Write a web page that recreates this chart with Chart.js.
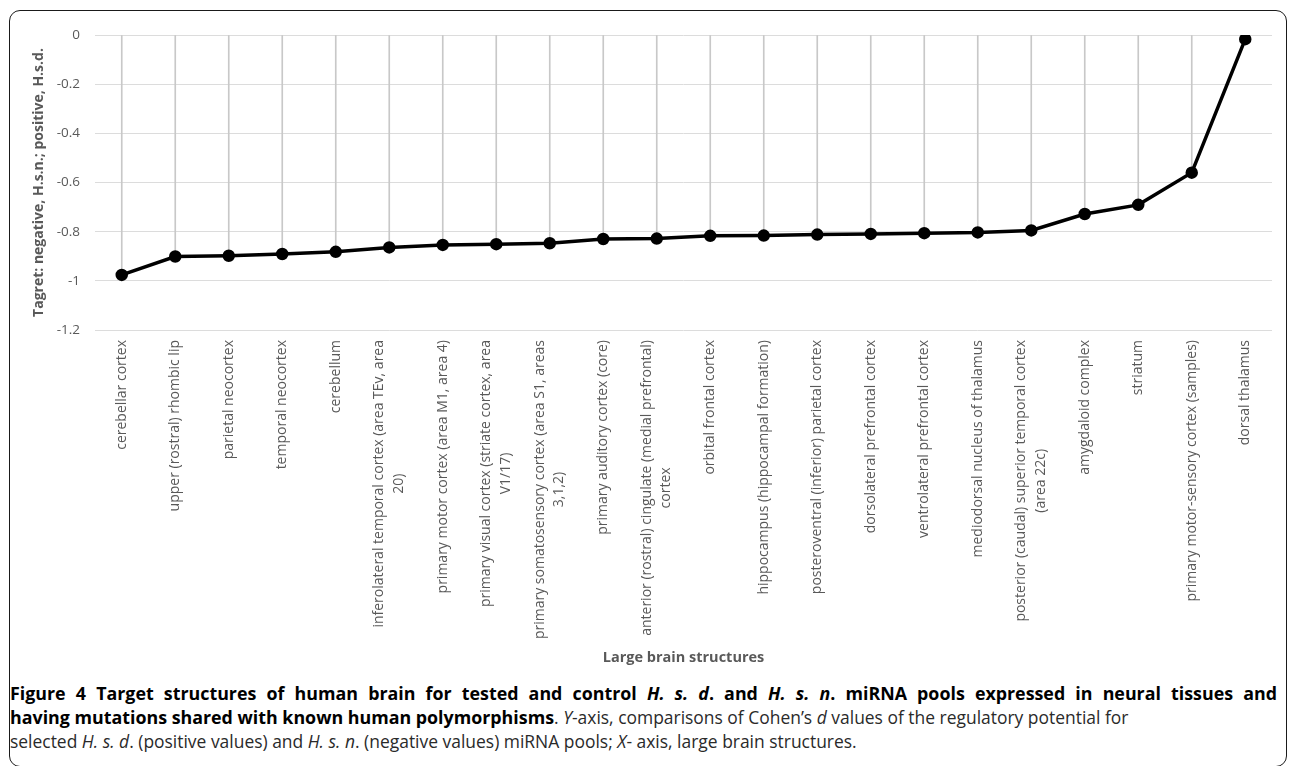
<!DOCTYPE html>
<html>
<head>
<meta charset="utf-8">
<script src="https://cdn.jsdelivr.net/npm/chart.js@4"></script>
<style>
  body { margin: 0; background: #fff; width: 1290px; height: 766px; overflow: hidden; position: relative; font-family: "Open Sans", sans-serif; }
  #frame { position: absolute; left: 9px; top: 10px; width: 1276px; height: 755px; border: 1.5px solid #1a1a1a; border-radius: 11px; }
  #wrap { position: absolute; left: 0; top: 0; width: 1290px; height: 672px; }
  #caption { position: absolute; left: 10px; top: 681px; width: 1267px; font-size: 15px; line-height: 24px; color: #2a2a2a; }
  #caption div { white-space: nowrap; height: 24px; }
  #caption .l1 { text-align: justify; text-align-last: justify; white-space: normal; }
  #caption b { color: #000; }
</style>
</head>
<body>
<div id="frame"></div>
<div id="wrap"><canvas id="brainChart"></canvas></div>
<div id="caption">
  <div class="l1" id="l1"><b>Figure 4 Target structures of human brain for tested and control <i>H. s. d</i>. and <i>H. s. n</i>. miRNA pools expressed in neural tissues and</b></div>
  <div><b id="l2b">having mutations shared with known human polymorphisms</b><span id="l2r">. <i>Y</i>-axis, comparisons of Cohen’s <i>d</i> values of the regulatory potential for</span></div>
  <div><span id="l3">selected <i>H. s. d</i>. (positive values) and <i>H. s. n</i>. (negative values) miRNA pools; <i>X</i>- axis, large brain structures.</span></div>
</div>
<script>
// brain structures (x axis), wrapped the same way as the original figure
const structures = [
  ["cerebellar cortex"],
  ["upper (rostral) rhombic lip"],
  ["parietal neocortex"],
  ["temporal neocortex"],
  ["cerebellum"],
  ["inferolateral temporal cortex (area TEv, area", "20)"],
  ["primary motor cortex (area M1, area 4)"],
  ["primary visual cortex (striate cortex, area", "V1/17)"],
  ["primary somatosensory cortex (area S1, areas", "3,1,2)"],
  ["primary auditory cortex (core)"],
  ["anterior (rostral) cingulate (medial prefrontal)", "cortex"],
  ["orbital frontal cortex"],
  ["hippocampus (hippocampal formation)"],
  ["posteroventral (inferior) parietal cortex"],
  ["dorsolateral prefrontal cortex"],
  ["ventrolateral prefrontal cortex"],
  ["mediodorsal nucleus of thalamus"],
  ["posterior (caudal) superior temporal cortex", "(area 22c)"],
  ["amygdaloid complex"],
  ["striatum"],
  ["primary motor-sensory cortex (samples)"],
  ["dorsal thalamus"]
];

// Cohen's d comparison values
const cohenD = [
  -0.976, -0.901, -0.898, -0.891, -0.882, -0.864, -0.854, -0.851, -0.847, -0.830, -0.828,
  -0.817, -0.816, -0.812, -0.809, -0.806, -0.803, -0.795, -0.728, -0.691, -0.560, -0.017
];

const yTicks = [0, -0.2, -0.4, -0.6, -0.8, -1, -1.2];

const gray = "#595959";

// size the caption pieces so they end where they do in the printed figure
function fitSpan(el, rightEdge) {
  const r = el.getBoundingClientRect();
  const size = parseFloat(getComputedStyle(el).fontSize);
  const fitted = size * (rightEdge - r.left) / r.width;
  el.style.fontSize = fitted.toFixed(2) + "px";
  return fitted;
}
const boldSize = fitSpan(document.getElementById("l2b"), 554);
document.getElementById("l1").style.fontSize = boldSize.toFixed(2) + "px";
const textSize = fitSpan(document.getElementById("l3"), 857);
document.getElementById("l2r").style.fontSize = textSize.toFixed(2) + "px";

// draws the rotated category labels, centred line by line like Excel does
const rotatedLabels = {
  id: "rotatedLabels",
  afterDraw(chart) {
    const ctx = chart.ctx;
    const xs = chart.scales.x;
    const top = chart.chartArea.bottom + 10;
    const lh = 19.5;
    ctx.save();
    ctx.font = "14px 'Open Sans'";
    ctx.fillStyle = gray;
    ctx.textBaseline = "middle";
    structures.forEach((lines, i) => {
      const x = xs.getPixelForValue(i);
      const maxW = Math.max(...lines.map(l => ctx.measureText(l).width));
      ctx.save();
      ctx.translate(x, top);
      ctx.rotate(-Math.PI / 2);
      ctx.textAlign = "center";
      lines.forEach((l, j) => {
        ctx.fillText(l, -maxW / 2, (j - (lines.length - 1) / 2) * lh);
      });
      ctx.restore();
    });
    ctx.restore();
  }
};

new Chart(document.getElementById("brainChart"), {
  data: {
    labels: structures.map(s => s.join(" ")),
    datasets: [
      {
        type: "line",
        data: cohenD,
        borderColor: "#000",
        borderWidth: 3.5,
        pointRadius: 4.5,
        pointBackgroundColor: "#000",
        pointBorderColor: "#000",
        tension: 0,
        order: 1
      },
      {
        type: "bar",
        data: cohenD,
        backgroundColor: "#c8c8c8",
        barThickness: 1,
        order: 2
      }
    ]
  },
  options: {
    responsive: true,
    maintainAspectRatio: false,
    animation: false,
    layout: { padding: { top: 35, right: 18, left: 0, bottom: 0 } },
    plugins: { legend: { display: false }, tooltip: { enabled: false } },
    scales: {
      x: {
        ticks: { display: false },
        grid: { display: false },
        border: { display: false },
        afterFit(scale) { scale.height = 342; },
        title: {
          display: true,
          text: "Large brain structures",
          color: gray,
          font: { family: "'Open Sans'", size: 14.5, weight: "bold" },
          padding: { top: 0, bottom: 5 }
        }
      },
      y: {
        min: -1.2,
        max: 0,
        afterBuildTicks(scale) { scale.ticks = yTicks.map(v => ({ value: v })); },
        ticks: {
          color: gray,
          font: { family: "'Open Sans'", size: 13.5 },
          padding: 15,
          callback: v => String(Math.round(v * 10) / 10)
        },
        grid: { color: "#dcdcdc", lineWidth: 1, drawTicks: false },
        border: { display: false },
        afterFit(scale) { scale.width = 95; },
        title: {
          display: true,
          text: "Tagret: negative, H.s.n.; positive, H.s.d.",
          color: gray,
          font: { family: "'Open Sans'", size: 14, weight: "bold" },
          padding: { top: 31, bottom: 0 }
        }
      }
    }
  },
  plugins: [rotatedLabels]
});
</script>
</body>
</html>
